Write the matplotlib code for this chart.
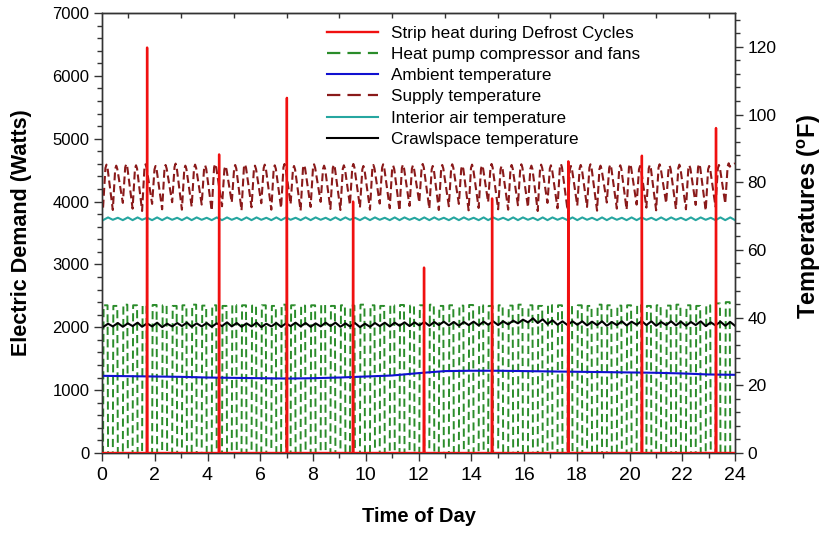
import matplotlib
matplotlib.use("Agg")
import matplotlib.pyplot as plt
from matplotlib.ticker import MultipleLocator
from matplotlib.lines import Line2D

plt.rcParams['font.family'] = ['Liberation Sans', 'DejaVu Sans']
plt.rcParams['mathtext.fontset'] = 'custom'
plt.rcParams['mathtext.rm'] = 'Liberation Sans'
plt.rcParams['mathtext.bf'] = 'Liberation Sans:bold'

# ---------------- data ----------------
# defrost strip-heat spikes (hour, watts)
defrost_t = [1.71, 4.44, 7.01, 9.52, 12.21, 14.79, 17.68, 20.47, 23.28]
defrost_w = [6450, 4750, 5650, 4000, 2950, 4050, 4640, 4730, 5170]

# heat-pump compressor cycle start times (hours) and running power
cycle_t = [0.04, 0.41, 0.79, 1.16, 1.52, 1.90, 2.28, 2.66,
           3.03, 3.40, 3.78, 4.16, 4.55, 4.92, 5.29, 5.67,
           6.04, 6.42, 6.79, 7.15, 7.53, 7.91, 8.29, 8.66,
           9.04, 9.40, 9.78, 10.16, 10.53, 10.91, 11.28, 11.66,
           12.03, 12.41, 12.77, 13.15, 13.53, 13.90, 14.28, 14.64,
           15.02, 15.40, 15.77, 16.15, 16.52, 16.89, 17.27, 17.65,
           18.02, 18.39, 18.77, 19.14, 19.52, 19.89, 20.27, 20.64,
           21.01, 21.39, 21.76, 22.14, 22.51, 22.89, 23.26, 23.63]
hp_on_w = [2350, 2340, 2360, 2350, 2345, 2355, 2350, 2340,
           2350, 2360, 2345, 2350, 2340, 2355, 2350, 2345,
           2350, 2340, 2360, 2350, 2345, 2350, 2355, 2340,
           2350, 2345, 2360, 2350, 2340, 2350, 2355, 2345,
           2350, 2360, 2340, 2350, 2345, 2355, 2350, 2340,
           2350, 2345, 2360, 2350, 2340, 2355, 2350, 2345,
           2350, 2340, 2360, 2350, 2345, 2350, 2355, 2340,
           2350, 2345, 2360, 2350, 2340, 2350, 2380, 2400]

# supply temperature per cycle (deg F): trough at cycle start, peak while running
sup_trough = [72.5, 71.8, 73.9, 72.2, 71.5, 73.6, 72.0, 74.1,
              71.9, 72.8, 73.4, 71.6, 72.9, 74.0, 71.7, 72.6,
              73.8, 71.9, 72.4, 73.5, 71.6, 72.7, 74.2, 72.1,
              71.8, 73.3, 72.5, 71.9, 73.7, 72.3, 71.6, 73.0,
              74.0, 72.2, 71.8, 72.9, 73.6, 71.7, 72.4, 74.1,
              72.0, 71.9, 73.2, 72.6, 71.5, 73.9, 72.3, 71.8,
              73.1, 72.7, 71.6, 74.0, 72.2, 71.9, 73.4, 72.5,
              71.7, 73.8, 72.1, 72.0, 73.3, 71.6, 72.8, 73.7]
sup_peak = [85.2, 84.9, 85.4, 85.0, 85.3, 84.8, 85.1, 85.5,
            84.9, 85.2, 85.0, 85.4, 84.8, 85.1, 85.3, 84.9,
            85.2, 85.0, 85.4, 84.8, 85.1, 85.3, 84.9, 85.2,
            85.0, 85.4, 84.8, 85.1, 85.3, 84.9, 85.2, 85.0,
            85.4, 84.8, 85.1, 85.3, 84.9, 85.2, 85.0, 85.4,
            84.8, 85.1, 85.3, 84.9, 85.2, 85.0, 85.4, 84.8,
            85.1, 85.3, 84.9, 85.2, 85.0, 85.4, 84.8, 85.1,
            85.3, 84.9, 85.2, 85.0, 85.4, 84.8, 85.1, 85.6]

# interior air temperature per cycle (deg F)
int_lo = [68.8, 68.9, 68.8, 68.8, 68.9, 68.8, 68.8, 68.9,
          68.8, 68.8, 68.9, 68.8, 68.8, 68.9, 68.8, 68.8,
          68.9, 68.8, 68.8, 68.9, 68.8, 68.8, 68.9, 68.8,
          68.8, 68.9, 68.8, 68.8, 68.9, 68.8, 68.8, 68.9,
          68.8, 68.8, 68.9, 68.8, 68.8, 68.9, 68.8, 68.8,
          68.9, 68.8, 68.8, 68.9, 68.8, 68.8, 68.9, 68.8,
          68.8, 68.9, 68.8, 68.8, 68.9, 68.8, 68.8, 68.9,
          68.8, 68.8, 68.9, 68.8, 68.8, 68.9, 68.8, 68.8]
int_hi = [69.6, 69.5, 69.6, 69.6, 69.5, 69.6, 69.6, 69.5,
          69.6, 69.6, 69.5, 69.6, 69.6, 69.5, 69.6, 69.6,
          69.5, 69.6, 69.6, 69.5, 69.6, 69.6, 69.5, 69.6,
          69.6, 69.5, 69.6, 69.6, 69.5, 69.6, 69.6, 69.5,
          69.6, 69.6, 69.5, 69.6, 69.6, 69.5, 69.6, 69.6,
          69.5, 69.6, 69.6, 69.5, 69.6, 69.6, 69.5, 69.6,
          69.6, 69.5, 69.6, 69.6, 69.5, 69.6, 69.6, 69.5,
          69.6, 69.6, 69.5, 69.6, 69.6, 69.5, 69.6, 69.6]

# crawlspace temperature per cycle (deg F)
crawl_lo = [37.2, 37.4, 37.3, 37.5, 37.3, 37.4, 37.2, 37.4,
            37.5, 37.3, 37.4, 37.3, 37.5, 37.4, 37.3, 37.4,
            37.2, 37.4, 37.3, 37.5, 37.4, 37.3, 37.4, 37.5,
            37.3, 37.4, 37.2, 37.3, 37.5, 37.4, 37.6, 37.5,
            37.7, 37.6, 37.8, 37.7, 37.6, 37.8, 37.7, 37.9,
            37.8, 38.0, 38.3, 38.6, 38.4, 38.1, 37.9, 37.8,
            37.9, 37.7, 37.8, 37.6, 37.8, 37.7, 37.9, 37.8,
            37.6, 37.8, 37.7, 37.6, 37.8, 37.5, 37.7, 37.6]
crawl_hi = [38.2, 38.4, 38.3, 38.5, 38.3, 38.5, 38.2, 38.4,
            38.5, 38.3, 38.4, 38.3, 38.6, 38.4, 38.3, 38.5,
            38.2, 38.4, 38.3, 38.5, 38.4, 38.3, 38.5, 38.5,
            38.3, 38.4, 38.2, 38.4, 38.5, 38.5, 38.6, 38.6,
            38.7, 38.7, 38.8, 38.7, 38.7, 38.8, 38.8, 38.9,
            38.9, 39.1, 39.4, 39.8, 39.5, 39.2, 38.9, 38.9,
            38.9, 38.8, 38.9, 38.7, 38.9, 38.8, 39.0, 38.9,
            38.7, 38.9, 38.8, 38.7, 38.9, 38.6, 38.8, 38.7]

# ambient temperature, hourly (deg F)
amb_t = list(range(25))
amb_f = [22.8, 22.7, 22.6, 22.5, 22.3, 22.2, 22.1, 22.0, 22.1, 22.3,
         22.6, 22.9, 23.6, 24.2, 24.3, 24.3, 24.2, 24.1, 24.0, 23.9,
         23.8, 23.7, 23.5, 23.2, 23.1]

labels = ["Strip heat during Defrost Cycles", "Heat pump compressor and fans",
          "Ambient temperature", "Supply temperature",
          "Interior air temperature", "Crawlspace temperature"]

# ---------------- build line vertices from the data ----------------
hp_x, hp_y = [0.0], [0.0]
sup_x, sup_y = [], []
int_x, int_y = [], []
cr_x, cr_y = [], []
for s, w, tr, pk, il, ih, cl, ch in zip(cycle_t, hp_on_w, sup_trough, sup_peak,
                                         int_lo, int_hi, crawl_lo, crawl_hi):
    hp_x += [s, s + 0.02, s + 0.17, s + 0.19]
    hp_y += [0, w, w, 0]
    sup_x += [s, s + 0.09, s + 0.13, s + 0.17]
    sup_y += [tr, pk - 1.0, pk, pk - 1.0]
    int_x += [s, s + 0.19]
    int_y += [il, ih]
    cr_x += [s, s + 0.19]
    cr_y += [cl, ch]
hp_x.append(24.0); hp_y.append(0)
sup_x.append(24.0); sup_y.append(sup_peak[-1])
int_x.append(24.0); int_y.append(int_lo[-1])
cr_x.append(24.0); cr_y.append(crawl_lo[-1])

dh_x, dh_y = [0.0], [0]
for t, w in zip(defrost_t, defrost_w):
    dh_x += [t - 0.015, t, t + 0.015]
    dh_y += [0, w, 0]
dh_x.append(24.0); dh_y.append(0)

# ---------------- figure ----------------
fig = plt.figure(figsize=(8.23, 5.33), dpi=100)
ax1 = fig.add_axes([102 / 823, 80 / 533, 633 / 823, 440 / 533])
ax2 = ax1.twinx()

RED = '#f01010'
GREEN = '#2a8c2a'
BLUE = '#1010d0'
DRED = '#8a1a1a'
TEAL = '#26a6a0'

l_hp, = ax1.plot(hp_x, hp_y, color=GREEN, lw=1.4, ls=(0, (4.2, 2.2)))
l_amb, = ax2.plot(amb_t, amb_f, color=BLUE, lw=1.5)
l_sup, = ax2.plot(sup_x, sup_y, color=DRED, lw=1.5, ls=(0, (3.8, 1.9)))
l_int, = ax2.plot(int_x, int_y, color=TEAL, lw=1.5)
l_cr, = ax2.plot(cr_x, cr_y, color='black', lw=1.5)
l_dh, = ax2.plot(dh_x, dh_y, color=RED, lw=1.7, transform=ax1.transData, zorder=5)

ax1.set_xlim(0, 24)
ax1.set_ylim(0, 7000)
ax2.set_ylim(0, 130)

ax1.xaxis.set_major_locator(MultipleLocator(2))
ax1.xaxis.set_minor_locator(MultipleLocator(1))
ax1.yaxis.set_major_locator(MultipleLocator(1000))
ax1.yaxis.set_minor_locator(MultipleLocator(200))
ax2.set_yticks(range(0, 121, 20))
ax2.yaxis.set_minor_locator(MultipleLocator(4))

for ax in (ax1, ax2):
    ax.tick_params(which='major', direction='out', length=6, width=1, color='#333333')
    ax.tick_params(which='minor', direction='out', length=3.5, width=1, color='#333333')
    for sp in ax.spines.values():
        sp.set_color('#333333')
        sp.set_linewidth(1.0)
ax1.tick_params(axis='y', which='both', right=False)
ax1.tick_params(axis='x', which='both', top=False)
ax1.tick_params(axis='x', labelsize=14, pad=4)
ax1.tick_params(axis='y', labelsize=12, pad=3)
ax2.tick_params(axis='y', labelsize=12.5, pad=3)

sec = ax1.secondary_xaxis('top')
sec.set_xticks(range(1, 24, 2))
sec.tick_params(direction='in', length=3.5, width=1, color='#333333', labeltop=False)
sec.spines['top'].set_color('#333333')

ax1.set_xlabel('Time of Day', fontsize=14.5, fontweight='bold')
ax1.xaxis.set_label_coords(0.5, (453 - 517) / 440)
ax1.xaxis.label.set_va('center')
ax1.set_ylabel('Electric Demand (Watts)', fontsize=15.5, fontweight='bold')
ax1.yaxis.set_label_coords((22 - 102) / 633, 0.5)
ax1.yaxis.label.set_va('center')
ax2.set_ylabel(r'Temperatures ($^{\mathbf{o}}$F)', fontsize=17, fontweight='bold')
ax2.yaxis.set_label_coords((809 - 102) / 633, (453 - 217) / 440)
ax2.yaxis.label.set_va('center')

# legend proxies for the dashed series (coarser dash pattern, as in the reference key)
h_hp = Line2D([], [], color=GREEN, lw=1.6, ls=(0, (6.0, 3.2)))
h_sup = Line2D([], [], color=DRED, lw=1.6, ls=(0, (6.0, 3.2)))
handles = [l_dh, h_hp, l_amb, h_sup, l_int, l_cr]
leg = ax2.legend(handles, labels, loc='upper left',
                 bbox_to_anchor=(327 / 823, (533 - 26) / 533), bbox_transform=fig.transFigure,
                 frameon=False, fontsize=12.3, handlelength=3.0, handletextpad=0.75,
                 labelspacing=0.36, borderpad=0, borderaxespad=0)

fig.savefig('out.png', dpi=100)
